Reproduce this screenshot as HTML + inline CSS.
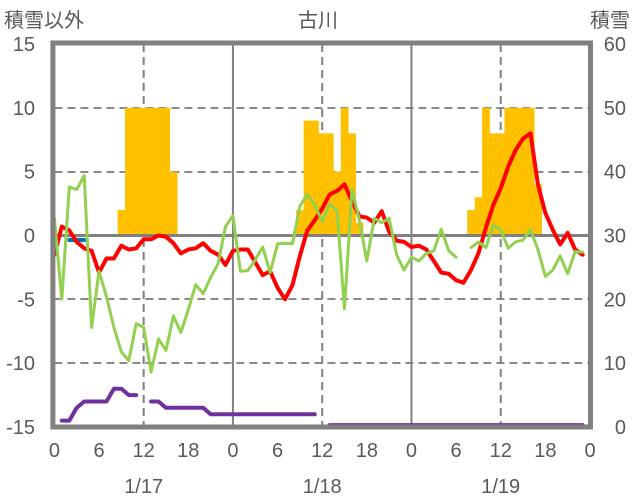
<!DOCTYPE html>
<html><head><meta charset="utf-8"><style>
body{margin:0;background:#fff;}
svg{display:block;font-family:"Liberation Sans","Noto Sans CJK JP",sans-serif;}
</style></head><body>
<svg id="c" width="636" height="501" viewBox="0 0 636 501"></svg>
<script>
const hours = Array.from({length:73},(_,i)=>i);
const redVals = [-1.5,0.7,0.4,-0.5,-1.0,-1.2,-2.9,-1.8,-1.8,-0.8,-1.1,-1.0,-0.3,-0.3,0.0,-0.1,-0.6,-1.4,-1.1,-1.0,-0.6,-1.2,-1.5,-2.3,-1.2,
-1.1,-1.1,-2.1,-3.1,-2.8,-4.1,-5.0,-3.9,-1.6,0.4,1.2,2.1,3.2,3.5,4.0,2.7,1.5,1.4,1.0,1.9,0.3,-0.4,-0.5,-0.9,
-0.8,-1.1,-2.0,-2.9,-3.0,-3.5,-3.7,-2.7,-1.4,0.6,2.4,3.7,5.4,6.7,7.6,8.0,4.0,1.75,0.45,-0.7,0.2,-1.1,-1.5];
const greenVals = [1.35,-5.0,3.8,3.6,4.7,-7.2,-2.8,-4.8,-7.2,-9.1,-9.8,-6.9,-7.2,-10.7,-8.1,-9.0,-6.3,-7.6,-5.8,-3.85,-4.55,-3.3,-2.2,0.7,1.55,
-2.8,-2.75,-1.9,-0.9,-2.9,-0.65,-0.6,-0.65,2.3,3.2,2.4,1.1,2.45,1.9,-5.75,3.6,1.2,-2.0,1.35,1.0,1.35,-1.5,-2.7,-1.7,
-2.0,-1.4,-1.2,0.5,-1.2,-1.7,null,-0.95,-0.5,-0.95,0.8,0.45,-1.0,-0.5,-0.35,0.45,-1.1,-3.2,-2.7,-1.6,-3.0,-1.25,-1.3];
const purpleVals = [null,-14.5,-14.5,-13.5,-13,-13,-13,-13,-12,-12,-12.5,-12.5,null,-13,-13,-13.5,-13.5,-13.5,-13.5,-13.5,-13.5,-14,-14,-14,-14,
-14,-14,-14,-14,-14,-14,-14,-14,-14,-14,-14,null,-14.85,-14.85,-14.85,-14.85,-14.85,-14.85,-14.85,-14.85,-14.85,-14.85,-14.85,-14.85,
-14.85,-14.85,-14.85,-14.85,-14.85,-14.85,-14.85,-14.85,-14.85,-14.85,-14.85,-14.85,-14.85,-14.85,-14.85,-14.85,-14.85,-14.85,-14.85,-14.85,-14.85,-14.85,-14.85];
const blueHours = [2,3,4];
const blueVals = [-0.35,-0.35,-0.35];
const barHours = [9,10,11,12,13,14,15,16,33,34,35,36,37,38,39,40,41,56,57,58,59,60,61,62,63,64,65];
const barVals = [34,50,50,50,50,50,50,40,34,48,48,46,46,40,50,46,32,34,36,50,46,46,50,50,50,50,38];
const barBase = 30;
const leftTicks = [15,10,5,0,-5,-10,-15];
const rightTicks = [60,50,40,30,20,10,0];
const gridVals = [10,5,-5,-10];
const xTickHours = [0,6,12,18,24,30,36,42,48,54,60,66,72];
const xTickLabels = ["0","6","12","18","0","6","12","18","0","6","12","18","0"];
const dateHours = [12,36,60];
const dateLabels = ["1/17","1/18","1/19"];

const X0=54.4,X1=590,Y0=44,Y1=427;
const x=h=>X0+(X1-X0)*h/72;
const yL=v=>Y0+(15-v)/30*(Y1-Y0);
const yR=v=>Y0+(60-v)/60*(Y1-Y0);
const svg=document.getElementById('c');
const NS='http://www.w3.org/2000/svg';
function mk(tag,attrs,parent){const e=document.createElementNS(NS,tag);for(const k in attrs)e.setAttribute(k,attrs[k]);(parent||svg).appendChild(e);return e;}

gridVals.forEach(v=>{
  const yy=Math.round(yL(v))-1;
  const g=mk('g',{fill:'#8a8a8a'});
  
  
  for(let xx=X0;xx<X1;xx+=13){mk('rect',{x:xx,y:yy,width:Math.min(8,X1-xx),height:2},g);}
});
dateHours.forEach(h=>{
  const l=mk('line',{x1:x(h),x2:x(h),y1:Y0,y2:Y1,stroke:'#808080','stroke-width':2,'stroke-dasharray':'8,5'});
  
  
});
[24,48].forEach(h=>{
  const l=mk('line',{x1:x(h),x2:x(h),y1:Y0,y2:Y1,stroke:'#808080','stroke-width':2});
  
  
});

const bw=(X1-X0)/72;
barHours.forEach((h,i)=>{
  const b=mk('rect',{x:x(h)-bw/2,y:yR(barVals[i]),width:bw+0.3,height:yR(barBase)-yR(barVals[i]),fill:'#ffc000'});
  
  
});
const z=mk('line',{x1:X0,x2:X1,y1:yL(0),y2:yL(0),stroke:'#808080','stroke-width':3});



function path(hs,vals,color,w,name){
  let d='',pen=false;
  vals.forEach((v,i)=>{if(v===null){pen=false;return;}d+=(pen?'L':'M')+x(hs[i]).toFixed(1)+','+yL(v).toFixed(1);pen=true;});
  const p=mk('path',{d:d,fill:'none',stroke:color,'stroke-width':w,'stroke-linejoin':'round','stroke-linecap':'round'});
  
  
}
path(blueHours,blueVals,'#0070c0',4,'blue-series');
path(hours,purpleVals,'#7030a0',4,'purple-series');
path(hours,redVals,'#ff0000',4,'red-series');
path(hours,greenVals,'#92d050',3,'green-series');

const f=mk('rect',{x:X0-1.5,y:Y0-1,width:X1-X0+2,height:Y1-Y0+1,fill:'none',stroke:'#808080','stroke-width':5});



function txt(s,xx,yy,anchor,name,size){
  const t=mk('text',{x:xx,y:yy,'text-anchor':anchor,fill:'#595959','font-size':size||20});
  t.textContent=s;
  
  
}
leftTicks.forEach(v=>txt(String(v),35,yL(v)+7,'end','left-tick-label'));
rightTicks.forEach(v=>txt(String(v),626,yR(v)+7,'end','right-tick-label'));
xTickHours.forEach((h,i)=>txt(xTickLabels[i],x(h),457,'middle','x-tick-label'));
dateHours.forEach((h,i)=>txt(dateLabels[i],x(h),493,'middle','date-label',20));
txt('積雪以外',4,27,'start','left-axis-title');
txt('古川',318,27,'middle','chart-title');
txt('積雪',630,27,'end','right-axis-title');
</script>
</body></html>
